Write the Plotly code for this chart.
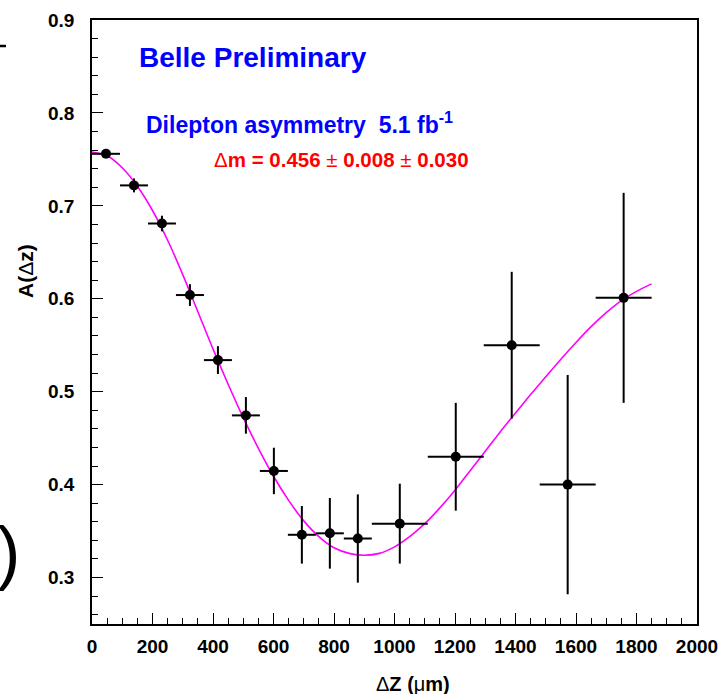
import plotly.graph_objects as go

# Data points (bin centres, asymmetry, errors)
dz = [46.25, 138.75, 231.25, 323.75, 416.25, 508.75, 601.25, 693.75, 786.25, 878.75,
      1017.5, 1202.5, 1387.5, 1572.5, 1757.5]
dz_err = [46.25, 46.25, 46.25, 46.25, 46.25, 46.25, 46.25, 46.25, 46.25, 46.25,
          92.5, 92.5, 92.5, 92.5, 92.5]
asym = [0.756, 0.722, 0.681, 0.604, 0.534, 0.4745, 0.4147, 0.346, 0.3476, 0.342,
        0.358, 0.430, 0.550, 0.400, 0.601]
asym_err = [0.004, 0.0075, 0.0084, 0.0117, 0.015, 0.0197, 0.025, 0.031, 0.038, 0.0475,
            0.043, 0.058, 0.079, 0.118, 0.113]

# Fit curve
fit_x = [0, 50, 100, 150, 200, 250, 300, 350, 400, 450, 500, 550, 600, 650, 700, 750,
         800, 850, 900, 950, 1000, 1050, 1100, 1150, 1200, 1250, 1300, 1350, 1400,
         1450, 1500, 1550, 1600, 1650, 1700, 1750, 1800, 1850]
fit_y = [0.758, 0.754, 0.741, 0.721, 0.695, 0.663, 0.626, 0.586, 0.546, 0.508, 0.472,
         0.439, 0.409, 0.383, 0.361, 0.344, 0.332, 0.326, 0.324, 0.326, 0.333, 0.344,
         0.358, 0.375, 0.394, 0.415, 0.436, 0.457, 0.477, 0.497, 0.516, 0.535, 0.553,
         0.570, 0.585, 0.598, 0.608, 0.616]

FONT = "Liberation Sans, Arial, Helvetica, sans-serif"
W, H = 721, 694
L, R, T, B = 92, 697, 20, 624

def px(xp):
    return (xp - L) / (R - L)

def py(yp):
    return (B - yp) / (B - T)

fig = go.Figure()
fig.add_trace(go.Scatter(x=fit_x, y=fit_y, mode="lines",
                         line=dict(color="#ff00ff", width=1.6, shape="spline", smoothing=0.8),
                         hoverinfo="skip", showlegend=False))
fig.add_trace(go.Scatter(x=dz, y=asym, mode="markers",
                         marker=dict(color="black", size=10),
                         error_x=dict(type="data", array=dz_err, color="black", thickness=2, width=0),
                         error_y=dict(type="data", array=asym_err, color="black", thickness=2, width=0),
                         showlegend=False))

axis_common = dict(showline=True, linecolor="black", linewidth=1.5, mirror=True,
                   ticks="inside", tickcolor="black", tickwidth=1.3, showgrid=False,
                   zeroline=False, automargin=False,
                   tickfont=dict(family=FONT, size=19, color="black", weight="bold"))

fig.update_xaxes(range=[0, 2000], dtick=200, tick0=0, ticklen=11,
                 minor=dict(dtick=50, ticklen=6, ticks="inside", tickcolor="black", tickwidth=1.3),
                 ticklabelstandoff=4, **axis_common)
fig.update_yaxes(range=[0.25, 0.9], dtick=0.1, tick0=0, ticklen=11, tickformat=".1f",
                 minor=dict(dtick=0.02, ticklen=6, ticks="inside", tickcolor="black", tickwidth=1.3),
                 ticklabelstandoff=12, **axis_common)

annotations = [
    dict(x=px(137), y=py(57), text="<b>Belle Preliminary</b>", xanchor="left", yanchor="middle",
         font=dict(family=FONT, size=28, color="#0000ff")),
    dict(x=px(144), y=py(123), text="<b>Dilepton asymmetry\u00a0\u00a05.1 fb<sup>-1</sup></b>",
         xanchor="left", yanchor="middle", font=dict(family=FONT, size=23, color="#0000ff")),
    dict(x=px(212), y=py(160), text="\u0394<b>m = 0.456 </b>\u00b1<b> 0.008 </b>\u00b1<b> 0.030</b>",
         xanchor="left", yanchor="middle", font=dict(family=FONT, size=20.5, color="#ff0000")),
    dict(x=px(413), y=py(684), text="\u0394<b>Z (</b>\u03bc<b>m)</b>", xanchor="center", yanchor="middle",
         font=dict(family=FONT, size=20, color="black")),
    dict(x=px(25), y=py(271), text="<b>A(</b>\u0394<b>z)</b>", xanchor="center", yanchor="middle",
         textangle=-90, font=dict(family=FONT, size=21, color="black")),
    dict(x=px(22), y=py(552), text=")", xanchor="right", yanchor="middle",
         font=dict(family=FONT, size=70, color="black")),
]
for a in annotations:
    a.update(xref="paper", yref="paper", showarrow=False)

fig.update_layout(
    width=W, height=H, autosize=False,
    margin=dict(l=L, r=W - R, t=T, b=H - B, pad=0),
    paper_bgcolor="white", plot_bgcolor="white",
    annotations=annotations,
    shapes=[dict(type="line", xref="paper", yref="paper", x0=px(0), x1=px(6), y0=py(46), y1=py(46),
                 line=dict(color="black", width=2.5))],
)

fig.write_html("out.html",
               config={"displayModeBar": False, "responsive": False},
               post_script="document.body.style.margin='0';")
